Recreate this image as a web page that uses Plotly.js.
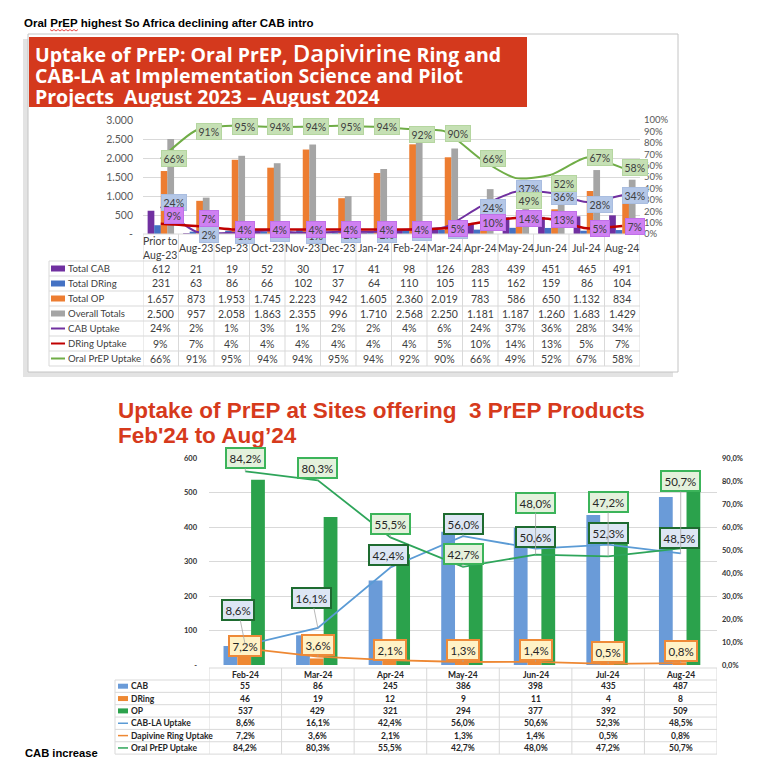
<!DOCTYPE html>
<html><head><meta charset="utf-8">
<script src="https://cdn.plot.ly/plotly-3.0.1.min.js"></script>
<style>html,body{margin:0;padding:0;background:#fff;}#chart{width:761px;height:775px;}</style>
</head><body><div id="chart"></div>
<script>
// ---------- Top chart data ----------
const topCategories = ["Prior to<br>Aug-23","Aug-23","Sep-23","Oct-23","Nov-23","Dec-23","Jan-24","Feb-24","Mar-24","Apr-24","May-24","Jun-24","Jul-24","Aug-24"];
const totalCAB      = [612,21,19,52,30,17,41,98,126,283,439,451,465,491];
const totalDRing    = [231,63,86,66,102,37,64,110,105,115,162,159,86,104];
const totalOP       = [1657,873,1953,1745,2223,942,1605,2360,2019,783,586,650,1132,834];
const overallTotals = [2500,957,2058,1863,2355,996,1710,2568,2250,1181,1187,1260,1683,1429];
const cabUptake     = [24,2,1,3,1,2,2,4,6,24,37,36,28,34];
const dringUptake   = [9,7,4,4,4,4,4,4,5,10,14,13,5,7];
const oralUptake    = [66,91,95,94,94,95,94,92,90,66,49,52,67,58];
const topLeftTicks  = [0,500,1000,1500,2000,2500,3000];
const topRightTicks = [0,10,20,30,40,50,60,70,80,90,100];

// ---------- Bottom chart data ----------
const botCategories  = ["Feb-24","Mar-24","Apr-24","May-24","Jun-24","Jul-24","Aug-24"];
const cab            = [55,86,245,386,398,435,487];
const dring          = [46,19,12,9,11,4,8];
const op             = [537,429,321,294,377,392,509];
const cabLAUptake    = [8.6,16.1,42.4,56.0,50.6,52.3,48.5];
const dapivineUptake = [7.2,3.6,2.1,1.3,1.4,0.5,0.8];
const oralPrEPUptake = [84.2,80.3,55.5,42.7,48.0,47.2,50.7];
const botLeftTicks   = [0,100,200,300,400,500,600];
const botRightTicks  = [0,10,20,30,40,50,60,70,80,90];

// ---------- label placement (style: pixel offsets) ----------
const topOralLblDown  = [0,1,1,0,0,1,0,5,2,0,22,9,0,0];
const topCabLblDown   = [-4,3,3,3,3,3,3,3,3,1,-3,4,2,0];
const topDringLblDown = [-8,-8,0,0,0,0,0,0,0,0,0,0,0,0];
const botOralLblDx = [0,0,0,0,0,0,0],   botOralLblDy = [-13,-12,-13,-13,-52,-54,-67];
const botCabLblDx  = [-7,-6,-2,0,0,0,-1], botCabLblDy = [-35,-30,-12,-12,-12,-12,-15];
const botDrLblDx   = [0,0,0,0,0,0,0],   botDrLblDy   = [-2,-12,-10,-12,-12,-12,-12];

const W=761,H=775;
const px=x=>x/W, py=y=>1-y/H;
const fmtInt=n=>String(n).replace(/\B(?=(\d{3})+(?!\d))/g,'.');
const fmtPct0=v=>v+'%';
const fmtPct1=v=>v.toFixed(1).replace('.',',')+'%';
const FONT='Lato, "Open Sans", sans-serif';
const GRID='#d9d9d9';

const traces=[];
[[totalCAB,'#7030a0',-0.37],[totalDRing,'#4472c4',-0.185],[totalOP,'#ed7d31',0],[overallTotals,'#a5a5a5',0.185]]
.forEach(([y,c,o])=>traces.push({type:'bar',x:topCategories,y:y,xaxis:'x',yaxis:'y',marker:{color:c,line:{width:0}},width:0.19,offset:o,hoverinfo:'skip',showlegend:false}));
[[cabUptake,'#7030a0',2],[oralUptake,'#70ad47',2],[dringUptake,'#c00000',2.5]]
.forEach(([y,c,w])=>traces.push({type:'scatter',mode:'lines',x:topCategories,y:y,xaxis:'x',yaxis:'y2',line:{color:c,width:w,shape:'spline',smoothing:0.6},hoverinfo:'skip',showlegend:false}));
[[cab,'#6a9bd8',-0.30],[dring,'#ee8833',-0.11],[op,'#2ba24c',0.08]]
.forEach(([y,c,o])=>traces.push({type:'bar',x:botCategories,y:y,xaxis:'x2',yaxis:'y3',marker:{color:c,line:{width:0}},width:0.19,offset:o,hoverinfo:'skip',showlegend:false}));
[[cabLAUptake,'#5b9bd5'],[dapivineUptake,'#ee8833'],[oralPrEPUptake,'#2ea55a']]
.forEach(([y,c])=>traces.push({type:'scatter',mode:'lines',x:botCategories,y:y,xaxis:'x2',yaxis:'y4',line:{color:c,width:1.8},hoverinfo:'skip',showlegend:false}));

const shapes=[],annotations=[];
function hline(x0,x1,y,color,w){shapes.push({type:'line',xref:'paper',yref:'paper',x0:px(x0),x1:px(x1),y0:py(y),y1:py(y),line:{color:color||GRID,width:w||1}});}
function vlinePx(x,y0,y1,color){shapes.push({type:'line',xref:'paper',yref:'paper',x0:px(x),x1:px(x),y0:py(y0),y1:py(y1),line:{color:color||GRID,width:1}});}
function vlineCat(ax,pos,y0,y1){shapes.push({type:'line',xref:ax,yref:'paper',x0:pos,x1:pos,y0:py(y0),y1:py(y1),line:{color:GRID,width:1}});}
function rectPx(x0,y0,x1,y1,fill,line,layer){shapes.push({type:'rect',xref:'paper',yref:'paper',x0:px(x0),x1:px(x1),y0:py(y0),y1:py(y1),fillcolor:fill,line:line||{width:0},layer:layer||'above'});}
function textPx(x,y,text,font,xanchor){annotations.push({xref:'paper',yref:'paper',x:px(x),y:py(y),text:text,showarrow:false,xanchor:xanchor||'left',yanchor:'middle',font:font});}

rectPx(23,39,673,377,'#e3e3e3',{width:0},'below');
rectPx(28,34,678,372,'#ffffff',{color:'#c4c4c4',width:1},'below');
rectPx(29,37,527,107,'#d4391d');
textPx(22,23,'Oral PrEP highest So Africa declining after CAB intro',{family:'"Liberation Sans", Arial, sans-serif',size:11.5,color:'#000',weight:'bold'});
(function(){let d='';for(let i=0;i<=14;i++){const x=50+i*2,y=29.5+(i%2?1.5:0);d+=(i?'L':'M')+px(x)+','+py(y);}shapes.push({type:'path',xref:'paper',yref:'paper',path:d,line:{color:'#e02020',width:0.8}});})();
const TF={family:'"Open Sans", sans-serif',size:19.5,color:'#ffffff'};
textPx(33,53,'<b>Uptake of PrEP: Oral PrEP, </b><span style="font-size:24px;font-weight:600">Dapivirine</span><b> Ring and</b>',TF);
textPx(33,75,'<b>CAB-LA at Implementation Science and Pilot</b>',TF);
textPx(33,96,'<b>Projects\u00a0 August 2023 – August 2024</b>',TF);
const T2={family:'"Liberation Sans", Arial, sans-serif',size:22.5,color:'#d63a1c',weight:'bold'};
textPx(116,411,'Uptake of PrEP at Sites offering\u00a0 3 PrEP Products',T2);
textPx(116,435,'Feb\'24 to Aug’24',T2);
textPx(23,753,'CAB increase',{family:'"Liberation Sans", Arial, sans-serif',size:11.2,color:'#000',weight:'bold'});

// ---------- top table ----------
const topRows=[
 ['Total CAB',totalCAB.map(fmtInt),'bar','#7030a0'],
 ['Total DRing',totalDRing.map(fmtInt),'bar','#4472c4'],
 ['Total OP',totalOP.map(fmtInt),'bar','#ed7d31'],
 ['Overall Totals',overallTotals.map(fmtInt),'bar','#a5a5a5'],
 ['CAB Uptake',cabUptake.map(fmtPct0),'line','#7030a0'],
 ['DRing Uptake',dringUptake.map(fmtPct0),'line','#c00000'],
 ['Oral PrEP Uptake',oralUptake.map(fmtPct0),'line','#70ad47']];
const TT={family:FONT,size:10.5,color:'#404040'};
const TL={family:FONT,size:9.6,color:'#404040'};
const tTop=261,tRh=15,tLeft=49,tRight=640;
hline(143,tRight,234);
for(let k=0;k<=topRows.length;k++) hline(tLeft,tRight,tTop+k*tRh);
vlinePx(tLeft,tTop,tTop+topRows.length*tRh);
for(let i=0;i<=topCategories.length;i++) vlineCat('x',i-0.5,234,tTop+topRows.length*tRh);
topCategories.forEach(c=>annotations.push({xref:'x',yref:'paper',x:c,y:py(248),text:c,showarrow:false,font:TT,yanchor:'middle'}));
topRows.forEach(([lab,vals,kind,col],k)=>{
  const yc=tTop+k*tRh+7.5;
  if(kind==='bar') rectPx(51,yc-3,65,yc+3,col); else hline(51,65,yc,col,2);
  textPx(66,yc,lab,TL);
  vals.forEach((v,i)=>annotations.push({xref:'x',yref:'paper',x:topCategories[i],y:py(yc),text:v,showarrow:false,font:TT,yanchor:'middle'}));
});

// ---------- top point labels ----------
const LF={family:FONT,size:10.5,color:'#404040'};
function topLbl(vals,down,bg,border){vals.forEach((v,i)=>annotations.push({xref:'x',yref:'y2',x:topCategories[i],y:v,text:v+'%',showarrow:false,xshift:13,yshift:-down[i],bgcolor:bg,bordercolor:border,borderwidth:1,borderpad:1.5,font:LF}));}
topLbl(cabUptake,topCabLblDown,'#b4c7e7','#a9bde0');
topLbl(dringUptake,topDringLblDown,'#cf80f2','#c070e8');
topLbl(oralUptake,topOralLblDown,'#c5e0b4','#b5d6a0');

// ---------- bottom table ----------
const botRows=[
 ['CAB',cab.map(String),'bar','#6a9bd8'],
 ['DRing',dring.map(String),'bar','#ee8833'],
 ['OP',op.map(String),'bar','#2ba24c'],
 ['CAB-LA Uptake',cabLAUptake.map(fmtPct1),'line','#5b9bd5'],
 ['Dapivine Ring Uptake',dapivineUptake.map(fmtPct1),'line','#ee8833'],
 ['Oral PrEP Uptake',oralPrEPUptake.map(fmtPct1),'line','#2ea55a']];
const BT={family:FONT,size:8.5,color:'#262626',weight:'bold'};
const bTop=680,bRh=12.35,bLeft=115,bRight=717;
hline(209,bRight,668);
for(let k=0;k<=botRows.length;k++) hline(bLeft,bRight,bTop+k*bRh);
vlinePx(bLeft,bTop,bTop+botRows.length*bRh);
for(let i=0;i<=botCategories.length;i++) vlineCat('x2',i-0.5,668,bTop+botRows.length*bRh);
botCategories.forEach(c=>annotations.push({xref:'x2',yref:'paper',x:c,y:py(674.5),text:c,showarrow:false,font:BT,yanchor:'middle'}));
botRows.forEach(([lab,vals,kind,col],k)=>{
  const yc=bTop+k*bRh+6.2;
  if(kind==='bar') rectPx(118,yc-2.5,128,yc+2.5,col); else hline(118,128,yc,col,1.5);
  textPx(129,yc,lab,BT);
  vals.forEach((v,i)=>annotations.push({xref:'x2',yref:'paper',x:botCategories[i],y:py(yc),text:v,showarrow:false,font:BT,yanchor:'middle'}));
});

// ---------- bottom point labels ----------
const BLF={family:FONT,size:11.5,color:'#262626'};
function botLbl(vals,dx,dy,bg,border){vals.forEach((v,i)=>annotations.push({xref:'x2',yref:'y4',x:botCategories[i],y:v,text:fmtPct1(v),showarrow:true,arrowhead:0,arrowwidth:0.8,arrowcolor:'#a6a6a6',ax:dx[i],ay:dy[i],standoff:0,bgcolor:bg,bordercolor:border,borderwidth:2,borderpad:2.5,font:BLF}));}
botLbl(dapivineUptake,botDrLblDx,botDrLblDy,'#fff2c6','#ee8a38');
botLbl(cabLAUptake,botCabLblDx,botCabLblDy,'#dde6f4','#1e6b30');
botLbl(oralPrEPUptake,botOralLblDx,botOralLblDy,'#e4f1dc','#3cb45a');

const layout={
  width:W,height:H,margin:{l:0,r:0,t:0,b:0},paper_bgcolor:'#ffffff',plot_bgcolor:'rgba(0,0,0,0)',
  barmode:'overlay',showlegend:false,hovermode:false,
  xaxis:{domain:[px(143),px(640)],anchor:'y',type:'category',range:[-0.5,13.5],showticklabels:false,showgrid:false,zeroline:false,showline:false,ticks:''},
  yaxis:{domain:[py(234),py(120)],anchor:'x',range:[0,3000],tickvals:topLeftTicks,ticktext:topLeftTicks.map(v=>v===0?'-':fmtInt(v)),
    gridcolor:GRID,zeroline:false,showline:false,ticks:'',ticklabelstandoff:9,tickfont:{family:FONT,size:10.5,color:'#595959'}},
  yaxis2:{overlaying:'y',side:'right',anchor:'x',range:[0,100],tickvals:topRightTicks,ticktext:topRightTicks.map(v=>v+'%'),
    showgrid:false,zeroline:false,showline:false,ticks:'',ticklabelstandoff:3,tickfont:{family:FONT,size:9.5,color:'#595959'}},
  xaxis2:{domain:[px(209),px(717)],anchor:'y3',type:'category',range:[-0.5,6.5],showticklabels:false,showgrid:false,zeroline:false,showline:false,ticks:''},
  yaxis3:{domain:[py(665),py(458)],anchor:'x2',range:[0,600],tickvals:botLeftTicks,ticktext:botLeftTicks.map(v=>v===0?'-':String(v)),
    gridcolor:GRID,zeroline:false,showline:false,ticks:'',ticklabelstandoff:11,tickfont:{family:FONT,size:7.5,color:'#333',weight:'bold'}},
  yaxis4:{overlaying:'y3',side:'right',anchor:'x2',range:[0,90],tickvals:botRightTicks,ticktext:botRightTicks.map(v=>v.toFixed(1).replace('.',',')+'%'),
    showgrid:false,zeroline:false,showline:false,ticks:'',ticklabelstandoff:4,tickfont:{family:FONT,size:7.5,color:'#333',weight:'bold'}},
  shapes:shapes,annotations:annotations
};
Plotly.newPlot('chart',traces,layout,{staticPlot:true,displayModeBar:false});
</script></body></html>
